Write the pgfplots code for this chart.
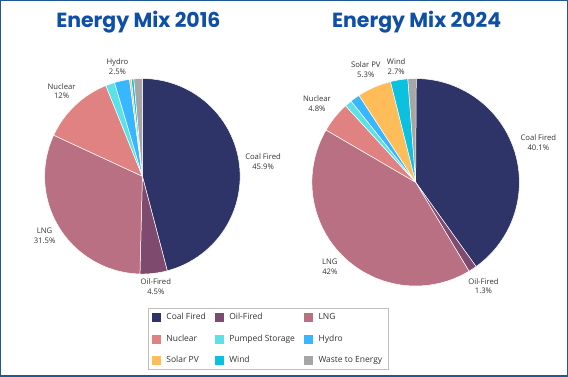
\documentclass[border=0pt]{standalone}
\usepackage{pgfplots}
\pgfplotsset{compat=1.18}
\usepackage{fontspec}
\setmainfont{Open Sans}
\newfontfamily\titlefont{Poppins}
\definecolor{coal}{HTML}{2F3468}
\definecolor{oil}{HTML}{7E4A6E}
\definecolor{lng}{HTML}{B87082}
\definecolor{nuclear}{HTML}{E08282}
\definecolor{pumped}{HTML}{5CE1E6}
\definecolor{hydro}{HTML}{38B6FF}
\definecolor{solar}{HTML}{FFBD59}
\definecolor{wind}{HTML}{0CC0DF}
\definecolor{waste}{HTML}{A6A6A6}
\definecolor{titleblue}{HTML}{0F4FA6}
\definecolor{framecol}{HTML}{1F5A96}
\definecolor{labgray}{HTML}{333333}
\definecolor{legbox}{HTML}{BFBFBF}
\tikzset{lab/.style={font=\fontsize{7.7}{9.7}\selectfont, text=labgray, align=center, inner sep=0pt}}

% shares in percent, clockwise from 12 o'clock
\def\mixA{45.9/coal,4.5/oil,31.5/lng,12/nuclear,1.5/pumped,2.5/hydro,0.3/solar,0.4/wind,1.4/waste}
\def\mixB{40.1/coal,1.3/oil,42/lng,4.8/nuclear,1.1/pumped,1.5/hydro,5.3/solar,2.7/wind,1.3/waste}

\newcommand\piechart[4]{%
  \xdef\cum{0}%
  \foreach \v/\c in #4 {%
    \pgfmathsetmacro\a{90-3.6*\cum}%
    \pgfmathsetmacro\b{90-3.6*(\cum+\v)}%
    \edef\temp{\noexpand\addplot[fill=\c, draw=white, line width=0.5pt, domain=\b:\a, samples=60, forget plot] ({#1+#3*cos(x)},{#2+#3*sin(x)}) -- (axis cs:#1,#2) -- cycle;}%
    \temp
    \pgfmathsetmacro\n{\cum+\v}\xdef\cum{\n}%
  }}

\begin{document}
\begin{tikzpicture}
\begin{axis}[
  x=1pt, y=1pt, xmin=0, xmax=568, ymin=0, ymax=376,
  scale only axis, clip=false,
  axis lines=box, xtick=\empty, ytick=\empty,
  axis line style={draw=framecol, line width=1.5pt},
  legend columns=3,
  legend cell align=left,
  legend image code/.code={\fill[#1] (0pt,-4pt) rectangle (8pt,4pt);},
  legend style={at={(axis cs:268,37)}, anchor=center, draw=legbox, line width=0.6pt,
    font=\fontsize{8.5}{10}\selectfont, text=labgray, row sep=9.5pt,
    /tikz/every odd column/.append style={column sep=4pt},
    /tikz/every even column/.append style={column sep=7pt},
    inner xsep=4pt, inner ysep=3pt},
]
\addlegendimage{coal}\addlegendentry{Coal Fired}
\addlegendimage{oil}\addlegendentry{Oil-Fired}
\addlegendimage{lng}\addlegendentry{LNG}
\addlegendimage{nuclear}\addlegendentry{Nuclear}
\addlegendimage{pumped}\addlegendentry{Pumped Storage}
\addlegendimage{hydro}\addlegendentry{Hydro}
\addlegendimage{solar}\addlegendentry{Solar PV}
\addlegendimage{wind}\addlegendentry{Wind}
\addlegendimage{waste}\addlegendentry{Waste to Energy}

\piechart{142}{200}{98}{\mixA}
\piechart{416}{194}{104}{\mixB}

\node[font=\titlefont\bfseries\fontsize{20.5}{22}\selectfont, text=titleblue] at (axis cs:138,355) {Energy Mix 2016};
\node[font=\titlefont\bfseries\fontsize{20.5}{22}\selectfont, text=titleblue] at (axis cs:417,355) {Energy Mix 2024};

\node[lab] at (axis cs:263,215) {Coal Fired\\45.9\%};
\node[lab] at (axis cs:155.5,89.5) {Oil-Fired\\4.5\%};
\node[lab] at (axis cs:44,140.5) {LNG\\31.5\%};
\node[lab] at (axis cs:61,285.5) {Nuclear\\12\%};
\node[lab] at (axis cs:117,310) {Hydro\\2.5\%};

\node[lab] at (axis cs:539,234) {Coal Fired\\40.1\%};
\node[lab] at (axis cs:484,90) {Oil-Fired\\1.3\%};
\node[lab] at (axis cs:330,109) {LNG\\42\%};
\node[lab] at (axis cs:317,272.5) {Nuclear\\4.8\%};
\node[lab] at (axis cs:366,307) {Solar PV\\5.3\%};
\node[lab] at (axis cs:396.5,310) {Wind\\2.7\%};
\end{axis}
\end{tikzpicture}
\end{document}
